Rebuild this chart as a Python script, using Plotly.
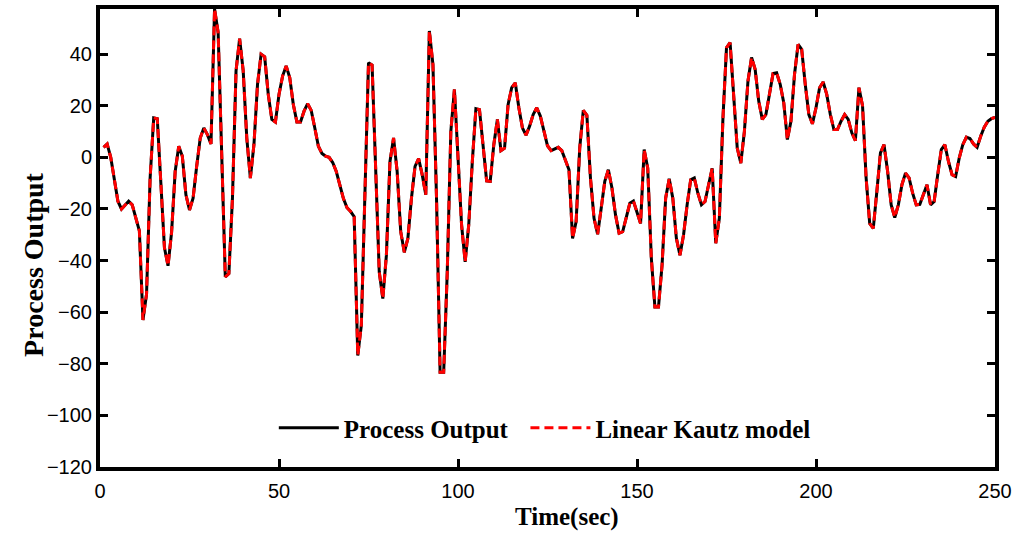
import plotly.graph_objects as go

time_sec = [1, 2, 3, 5, 6, 8, 9, 10, 11, 12, 13, 14, 15, 16, 17, 18, 19, 20,
            21, 22, 23, 24, 25, 26, 27, 28, 29, 30, 31, 32, 33, 34, 35, 36, 37, 38, 39, 40,
            41, 42, 43, 44, 45, 46, 47, 48, 49, 50, 51, 52, 53, 54, 55, 56, 57, 58, 59, 60,
            61, 62, 63, 64, 65, 66, 67, 68, 69, 70, 71, 72, 73, 74, 75, 76, 77, 78, 79, 80,
            81, 82, 83, 84, 85, 86, 87, 88, 89, 90, 91, 92, 93, 94, 95, 96, 97, 98, 99, 100,
            101, 102, 103, 104, 105, 106, 107, 108, 109, 110, 111, 112, 113, 114, 115, 116, 117, 118, 119, 120,
            121, 122, 123, 124, 125, 126, 128, 129, 130, 131, 132, 133, 134, 135, 136, 137, 138, 139, 140,
            141, 142, 143, 144, 145, 146, 147, 148, 149, 150, 151, 152, 153, 154, 155, 156, 157, 158, 159, 160,
            161, 162, 163, 164, 165, 166, 167, 168, 169, 170, 171, 172, 173, 174, 175, 176, 177, 178, 179, 180,
            181, 182, 183, 184, 185, 186, 187, 188, 189, 190, 191, 192, 193, 194, 195, 196, 197, 198, 199, 200,
            201, 202, 203, 204, 205, 206, 207, 208, 209, 210, 211, 212, 213, 214, 215, 216, 217, 218, 219, 220,
            221, 222, 223, 224, 225, 226, 227, 228, 229, 230, 231, 232, 233, 234, 235, 236, 237, 238, 239, 240,
            241, 242, 243, 244, 245, 246, 247, 248, 249, 250]

process_output = [3.9, 5.2, 0.0, -17.0, -20.0, -17.0, -18.4, -23.6, -28.5, -63.0, -53.0, -8.0, 15.3, 15.0, -8.0, -35.0, -42.0, -29.0,
                  -5.4, 4.3, 0.4, -14.5, -20.4, -15.8, -3.5, 7.5, 11.4, 8.8, 5.2, 57.5, 48.4, 4.9, -46.3, -45.0, -15.8, 33.5, 46.0, 33.5,
                  7.5, -8.0, 4.9, 28.3, 40.0, 39.0, 24.4, 14.7, 13.7, 24.4, 31.5, 35.4, 30.9, 20.5, 13.7, 13.7, 17.9, 20.8, 18.2, 11.4,
                  4.3, 1.5, 0.5, 0.0, -2.0, -5.5, -10.5, -16.0, -19.5, -21.0, -23.0, -76.8, -65.0, -18.4, 36.7, 35.8, -5.4, -44.4, -54.7, -37.9,
                  -1.6, 7.5, -5.4, -28.8, -36.8, -31.4, -15.8, -3.5, -0.5, -6.7, -14.5, 49.0, 36.0, -15.8, -83.3, -83.3, -44.4, 10.1, 26.3, -0.3,
                  -26.2, -40.5, -26.2, -1.6, 18.9, 18.5, 3.6, -9.1, -9.3, 4.9, 14.7, 2.6, 3.6, 20.5, 27.0, 28.9, 19.2, 11.4, 8.6, 12.1,
                  16.6, 19.2, 16.0, 10.5, 4.5, 2.6, 3.9, 2.6, -0.9, -4.8, -31.4, -24.9, 3.6, 18.2, 16.3, -8.0, -23.6, -29.8, -19.7,
                  -9.3, -4.8, -11.9, -22.3, -29.4, -28.8, -23.6, -17.8, -16.9, -21.0, -25.6, 3.0, -4.2, -39.0, -58.0, -58.0, -41.8, -15.8, -8.3, -15.8,
                  -31.4, -37.9, -30.1, -18.4, -8.7, -8.0, -13.9, -18.4, -17.1, -10.6, -4.2, -33.3, -23.6, 15.0, 42.5, 44.5, 25.7, 3.6, -2.2, 10.1,
                  29.6, 38.7, 34.1, 21.8, 14.7, 16.6, 24.5, 32.5, 32.8, 28.3, 21.1, 6.9, 14.0, 32.2, 43.8, 41.9, 28.3, 16.6, 13.0, 19.2,
                  27.0, 29.2, 24.4, 16.6, 10.8, 10.8, 14.0, 16.6, 14.7, 9.5, 6.5, 27.0, 20.0, -8.0, -25.6, -27.5, -13.2, 1.7, 4.9, -5.4,
                  -18.4, -23.3, -18.4, -10.6, -6.1, -8.0, -13.9, -18.4, -18.2, -14.5, -10.6, -18.4, -17.1, -6.7, 3.0, 4.9, -1.6, -6.7, -7.4, -0.3,
                  4.9, 7.8, 7.3, 5.2, 3.9, 8.2, 11.7, 14.0, 15.0, 15.5]

# The linear Kautz model output coincides with the process output at plot resolution
kautz_model = list(process_output)

x_ticks = [0, 50, 100, 150, 200, 250]
y_ticks = [-120, -100, -80, -60, -40, -20, 0, 20, 40]

serif = "Liberation Serif, Times New Roman, serif"
tick_font = dict(family="Liberation Sans, Arial, sans-serif", size=20, color="black")

fig = go.Figure()
fig.add_trace(go.Scatter(x=time_sec, y=process_output, mode="lines",
                         name="<b>Process Output</b>&nbsp;&nbsp;",
                         line=dict(color="black", width=3)))
fig.add_trace(go.Scatter(x=time_sec, y=kautz_model, mode="lines", name="<b>Linear Kautz model</b>",
                         line=dict(color="red", width=3, dash="9px,5px")))

axis_common = dict(showline=True, linewidth=4, linecolor="black", mirror="ticks",
                   ticks="inside", ticklen=8, tickwidth=2.5, tickcolor="black",
                   showgrid=False, zeroline=False, tickfont=tick_font, automargin=False)

fig.update_xaxes(range=[0, 250], tickvals=x_ticks, ticklabelstandoff=3, **axis_common)
fig.update_yaxes(range=[-120, 57.5], tickvals=y_ticks, **axis_common)

# Axis titles (placed as in the reference, slightly off-centre)
fig.add_annotation(text="<b>Time(sec)</b>", xref="paper", yref="paper", x=0.522, y=-0.109,
                   xanchor="center", yanchor="middle", showarrow=False,
                   font=dict(family=serif, size=25, color="black"))
fig.add_annotation(text="<b>Process Output</b>", xref="paper", yref="paper", x=-0.075, y=0.441,
                   xanchor="center", yanchor="middle", showarrow=False, textangle=-90,
                   font=dict(family=serif, size=28, color="black"))

fig.update_layout(
    width=1017, height=535,
    margin=dict(l=100, r=22, t=9, b=68),
    paper_bgcolor="white", plot_bgcolor="white",
    showlegend=True,
    legend=dict(orientation="h", x=0.497, xanchor="center", y=0.085, yanchor="middle",
                font=dict(family=serif, size=25, color="black"), bgcolor="rgba(0,0,0,0)",
                itemwidth=60),
)

fig.write_html("out.html")
